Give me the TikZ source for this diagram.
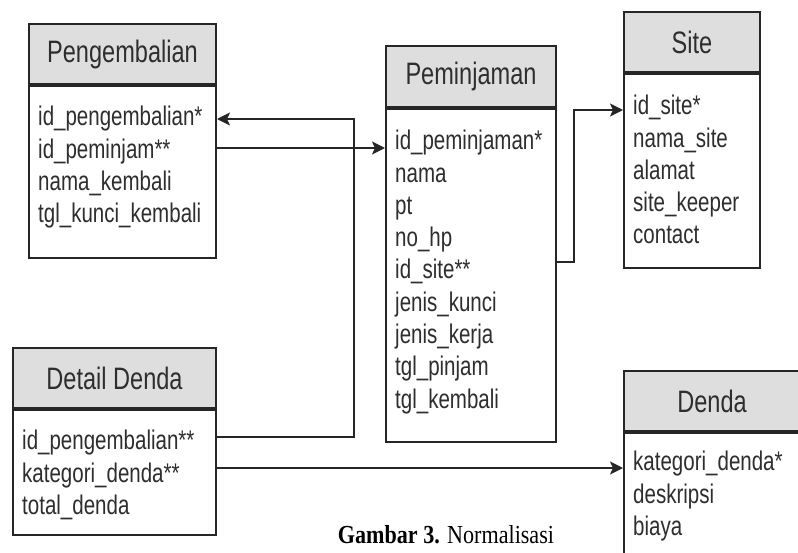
\documentclass[tikz,border=0pt]{standalone}
\usepackage{fontspec}
\setmainfont{Liberation Sans}[FakeStretch=0.76]
\newfontfamily\capfont{Liberation Serif}[FakeStretch=0.85]
\usetikzlibrary{arrows.meta}

\begin{document}
\begin{tikzpicture}[x=1pt,y=-1pt,
  judul/.style={draw=garis, fill=abu, line width=2pt, inner sep=0pt,
    minimum height=60pt, anchor=north west, text=teks,
    font=\fontsize{31}{37}\selectfont},
  isi/.style={draw=garis, fill=white, line width=2pt, inner sep=0pt, anchor=north west},
  kolom/.style={anchor=north west, align=left, inner sep=0pt, text=teks,
    font=\fontsize{27}{32.3}\selectfont},
  relasi/.style={draw=garis, line width=1.8pt, -{Stealth[length=13pt,width=13pt,inset=3pt]}}]

% Warna
\definecolor{garis}{HTML}{262626}
\definecolor{abu}{HTML}{DEDEDE}
\definecolor{teks}{HTML}{2E2E2E}

\useasboundingbox[fill=white] (0,0) rectangle (798,552);

% Tabel Pengembalian
\node[judul, minimum width=187pt] (pgJudul) at (28,23) {Pengembalian};
\node[isi, minimum width=187pt, minimum height=172pt] (pgIsi) at (pgJudul.south west) {};
\node[kolom] (pgKolom) at ([xshift=10pt,yshift=-21pt]pgIsi.north west)
  {id\_pengembalian*\\id\_peminjam**\\nama\_kembali\\tgl\_kunci\_kembali};

% Tabel Peminjaman
\node[judul, minimum width=170pt, minimum height=61pt] (pmJudul) at (385,45) {Peminjaman};
\node[isi, minimum width=170pt, minimum height=333pt] (pmIsi) at (pmJudul.south west) {};
\node[kolom] (pmKolom) at ([xshift=10pt,yshift=-22pt]pmIsi.north west)
  {id\_peminjaman*\\nama\\pt\\no\_hp\\id\_site**\\jenis\_kunci\\jenis\_kerja\\tgl\_pinjam\\tgl\_kembali};

% Tabel Site
\node[judul, minimum width=136pt] (stJudul) at (623,11) {Site};
\node[isi, minimum width=136pt, minimum height=194pt] (stIsi) at (stJudul.south west) {};
\node[kolom] (stKolom) at ([xshift=10pt,yshift=-22pt]stIsi.north west)
  {id\_site*\\nama\_site\\alamat\\site\_keeper\\contact};

% Tabel Detail Denda
\node[judul, minimum width=203pt] (ddJudul) at (12,347) {Detail Denda};
\node[isi, minimum width=203pt, minimum height=125pt] (ddIsi) at (ddJudul.south west) {};
\node[kolom] (ddKolom) at ([xshift=10pt,yshift=-21pt]ddIsi.north west)
  {id\_pengembalian**\\kategori\_denda**\\total\_denda};

% Tabel Denda (terpotong di tepi kanan)
\node[judul, minimum width=190pt] (dnJudul) at (623,370) {\hspace*{-14pt}Denda};
\node[isi, minimum width=190pt, minimum height=150pt] (dnIsi) at (dnJudul.south west) {};
\node[kolom] (dnKolom) at ([xshift=10pt,yshift=-19pt]dnIsi.north west)
  {kategori\_denda*\\deskripsi\\biaya};

% Relasi
\draw[relasi] ([yshift=-63pt]pgIsi.north east) -- ([yshift=-63pt]pgIsi.north east -| pmIsi.west);
\draw[relasi] ([yshift=-28pt]ddIsi.north east) -- ++(137pt,0) |- ([yshift=-34pt]pgIsi.north east);
\draw[relasi] ([yshift=-154pt]pmIsi.north east) -- ++(17pt,0) |- ([yshift=-37pt]stIsi.north west);
\draw[relasi] ([yshift=-59pt]ddIsi.north east) -- ([yshift=-59pt]ddIsi.north east -| dnIsi.west);

% Keterangan gambar
\node[font=\capfont\fontsize{26}{30}\selectfont, anchor=base, inner sep=0pt] (keterangan)
  at (446,543) {\textbf{Gambar 3.} Normalisasi};

\end{tikzpicture}
\end{document}
